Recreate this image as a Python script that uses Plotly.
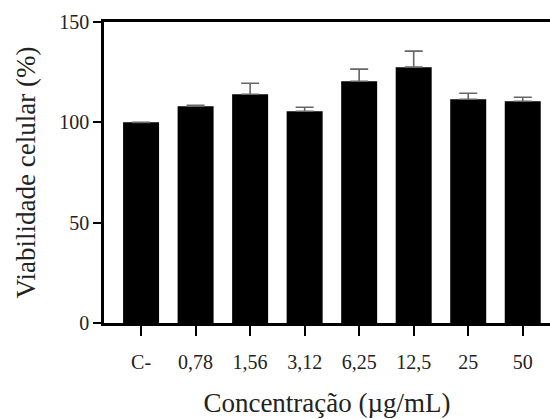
import plotly.graph_objects as go

categories = ["C-", "0,78", "1,56", "3,12", "6,25", "12,5", "25", "50"]
viability = [100, 108, 114, 105.5, 120.5, 127.5, 111.5, 110.5]
error = [0, 0.5, 5.5, 2, 6, 8, 3, 2]
y_ticks = [0, 50, 100, 150]

font_family = "Liberation Serif, Times New Roman, DejaVu Serif, serif"
text_color = "#222222"

fig = go.Figure(
    go.Bar(
        x=list(range(len(categories))),
        y=viability,
        marker=dict(color="black", line=dict(width=0)),
        width=0.66,
        error_y=dict(type="data", array=error, symmetric=False, arrayminus=[0]*len(error),
                     color="#666666", thickness=1.6, width=9),
    )
)

fig.update_layout(
    width=550, height=419,
    margin=dict(l=104, r=0, t=22, b=96),
    plot_bgcolor="white", paper_bgcolor="white",
    showlegend=False,
    font=dict(family=font_family, color=text_color),
    xaxis=dict(
        tickmode="array", tickvals=list(range(len(categories))), ticktext=categories,
        range=[-0.68, 7.5], automargin=False,
        showline=True, linecolor="black", linewidth=2.5, mirror=True,
        ticks="outside", ticklen=10, tickwidth=2, tickcolor="black",
        ticklabelstandoff=9,
        tickfont=dict(size=20, family=font_family, color=text_color),
        showgrid=False, zeroline=False,
        title=dict(text="Concentração (µg/mL)", font=dict(size=27, family=font_family, color=text_color), standoff=22),
    ),
    yaxis=dict(
        range=[0, 150], tickvals=y_ticks, automargin=False,
        showline=True, linecolor="black", linewidth=2.5,
        ticks="outside", ticklen=8, tickwidth=2, tickcolor="black",
        tickfont=dict(size=20, family=font_family, color=text_color),
        showgrid=False, zeroline=False,
        title=dict(text="Viabilidade celular (%)", font=dict(size=27, family=font_family, color=text_color), standoff=16),
    ),
)

fig.write_html("out.html", config={"displayModeBar": False},
               post_script="document.body.style.margin='0';")
